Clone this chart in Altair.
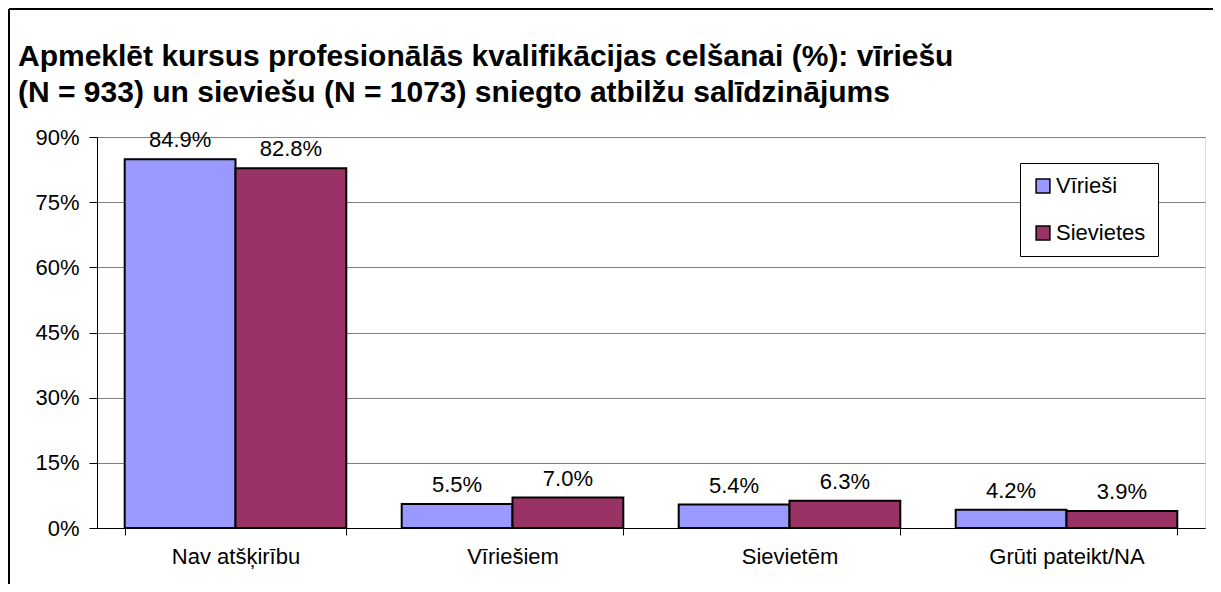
import altair as alt
import pandas as pd

categories = ["Nav atšķirību", "Vīriešiem", "Sievietēm", "Grūti pateikt/NA"]
series = ["Vīrieši", "Sievietes"]
men = [84.9, 5.5, 5.4, 4.2]
women = [82.8, 7.0, 6.3, 3.9]
colors = ["#9999FF", "#993366"]
title_lines = [
    "Apmeklēt kursus profesionālās kvalifikācijas celšanai (%): vīriešu",
    "(N = 933) un sieviešu (N = 1073) sniegto atbilžu salīdzinājums",
]

rows = []
for i, c in enumerate(categories):
    rows.append({"cat": c, "ser": series[0], "val": men[i], "lab": f"{men[i]:.1f}%"})
    rows.append({"cat": c, "ser": series[1], "val": women[i], "lab": f"{women[i]:.1f}%"})
df = pd.DataFrame(rows)

FONT = "Liberation Sans"
FS = 22
W, H = 1108, 391

x_enc = alt.X(
    "cat:N",
    sort=categories,
    title=None,
    scale=alt.Scale(paddingInner=0.2, paddingOuter=0.1),
    axis=alt.Axis(
        labelAngle=0,
        labelFontSize=FS,
        labelFont=FONT,
        labelColor="#000000",
        labelPadding=11,
        tickBand="extent",
        tickSize=7,
        tickColor="#000000",
        domainColor="#000000",
        grid=False,
    ),
)
y_enc = alt.Y(
    "val:Q",
    title=None,
    scale=alt.Scale(domain=[0, 90], nice=False),
    axis=alt.Axis(
        values=[0, 15, 30, 45, 60, 75, 90],
        labelExpr="datum.value + '%'",
        labelFontSize=FS,
        labelFont=FONT,
        labelColor="#000000",
        labelPadding=10,
        tickSize=8,
        tickColor="#000000",
        domainColor="#000000",
        gridColor="#808080",
        gridWidth=1,
    ),
)

bars = alt.Chart(df).mark_bar(stroke="#000000", strokeWidth=2).encode(
    x=x_enc,
    xOffset=alt.XOffset("ser:N", sort=series),
    y=y_enc,
    color=alt.Color(
        "ser:N",
        sort=series,
        scale=alt.Scale(domain=series, range=colors),
        legend=alt.Legend(
            title=None,
            orient="none",
            legendX=923,
            legendY=26,
            labelFontSize=FS,
            labelFont=FONT,
            labelColor="#000000",
            symbolType="square",
            symbolSize=190,
            symbolStrokeColor="#000000",
            symbolStrokeWidth=1.5,
            symbolOpacity=1,
            strokeColor="#000000",
            fillColor="#FFFFFF",
            padding=12,
            rowPadding=25,
            labelOffset=2,
        ),
    ),
)

labels = alt.Chart(df).mark_text(
    dy=-19, fontSize=FS, font=FONT, color="#000000", baseline="middle"
).encode(
    x=alt.X("cat:N", sort=categories),
    xOffset=alt.XOffset("ser:N", sort=series),
    y="val:Q",
    text="lab:N",
)

t1 = alt.Chart(pd.DataFrame({"t": [title_lines[0]]})).mark_text(
    align="left", baseline="alphabetic", font=FONT, fontSize=30,
    fontWeight="bold", color="#000000",
).encode(x=alt.value(-79), y=alt.value(-71), text="t:N")
t2 = alt.Chart(pd.DataFrame({"t": [title_lines[1]]})).mark_text(
    align="left", baseline="alphabetic", font=FONT, fontSize=30,
    fontWeight="bold", color="#000000",
).encode(x=alt.value(-79), y=alt.value(-35), text="t:N")

frame_left = alt.Chart(pd.DataFrame({"a": [0]})).mark_rule(
    color="#000000", strokeWidth=2
).encode(x=alt.value(-88), y=alt.value(-128), y2=alt.value(H + 60))
frame_top = alt.Chart(pd.DataFrame({"a": [0]})).mark_rule(
    color="#000000", strokeWidth=2
).encode(x=alt.value(-88), x2=alt.value(W + 20), y=alt.value(-128))

chart = (
    alt.layer(bars, labels, t1, t2, frame_left, frame_top)
    .properties(
        width=W,
        height=H,
        padding={"left": 89, "top": 129, "right": 8, "bottom": 56},
        autosize=alt.AutoSizeParams(type="none"),
    )
    .configure_view(stroke="#808080", strokeWidth=1)
    .configure(background="#FFFFFF")
)

chart.save("out.html", embed_options={"renderer": "svg", "actions": False})
